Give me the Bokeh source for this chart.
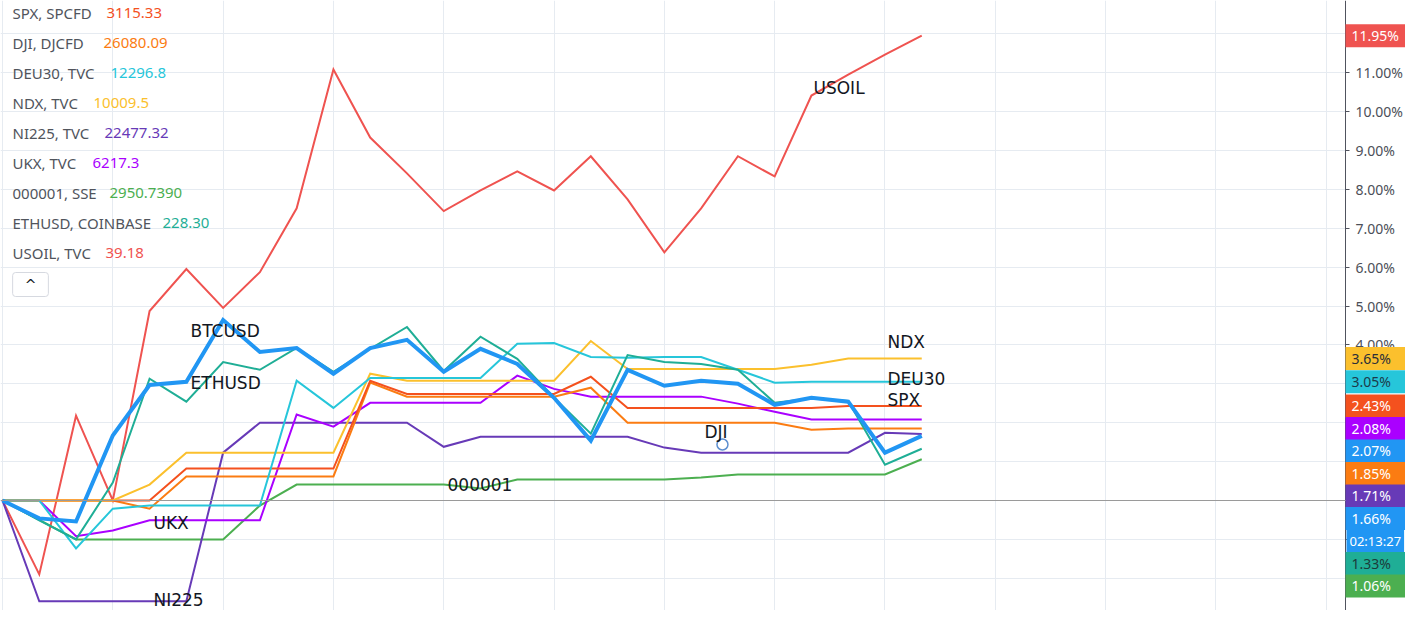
from bokeh.plotting import figure
from bokeh.models import (Range1d, FixedTicker, CustomJSTickFormatter, Span, Label,
                          BoxAnnotation)
from bokeh.embed import file_html
from bokeh.resources import INLINE

# ---------------- data (percent change, one point per bar) ----------------
bar_index = list(range(26))
btcusd = [0, -0.46, -0.54, 1.67, 2.97, 3.05, 4.64, 3.82, 3.92, 3.26, 3.92, 4.13, 3.31,
          3.90, 3.51, 2.64, 1.54, 3.36, 2.95, 3.08, 3.00, 2.46, 2.64, 2.54, 1.23, 1.66]
ethusd = [0, -0.51, -1.00, 0.46, 3.13, 2.54, 3.56, 3.36, 3.92, 3.31, 3.90, 4.46, 3.33,
          4.21, 3.64, 2.64, 1.72, 3.74, 3.56, 3.51, 3.36, 2.51, 2.62, 2.56, 0.92, 1.33]
deu30 = [0, 0, -1.23, -0.21, -0.13, -0.13, -0.13, -0.13, 3.08, 2.38, 3.15, 3.15, 3.15,
         3.15, 4.03, 4.05, 3.69, 3.67, 3.69, 3.69, 3.36, 3.03, 3.05, 3.05, 3.05, 3.05]
ndx = [0, 0, 0, 0, 0.41, 1.23, 1.23, 1.23, 1.23, 1.23, 3.26, 3.08, 3.08,
       3.08, 3.08, 3.08, 4.10, 3.38, 3.38, 3.38, 3.38, 3.38, 3.49, 3.65, 3.65, 3.65]
spx = [0, 0, 0, 0, 0, 0.82, 0.82, 0.82, 0.82, 0.82, 3.08, 2.74, 2.74,
       2.74, 2.74, 2.74, 3.18, 2.38, 2.38, 2.38, 2.38, 2.38, 2.38, 2.43, 2.43, 2.43]
dji = [0, 0, 0, 0, -0.21, 0.62, 0.62, 0.62, 0.62, 0.62, 3.03, 2.67, 2.67,
       2.67, 2.67, 2.67, 2.90, 2.00, 2.00, 2.00, 2.00, 2.00, 1.82, 1.85, 1.85, 1.85]
ni225 = [0, -2.59, -2.59, -2.59, -2.59, -2.59, 1.23, 2.00, 2.00, 2.00, 2.00, 2.00, 1.38,
         1.64, 1.64, 1.64, 1.64, 1.64, 1.36, 1.23, 1.23, 1.23, 1.23, 1.23, 1.74, 1.71]
ukx = [0, 0, -0.92, -0.77, -0.51, -0.51, -0.51, -0.51, 2.21, 1.90, 2.51, 2.51, 2.51,
       2.51, 3.21, 2.87, 2.67, 2.67, 2.67, 2.67, 2.49, 2.28, 2.08, 2.08, 2.08, 2.08]
sse000001 = [0, -0.50, -1.00, -1.00, -1.00, -1.00, -1.00, -0.13, 0.41, 0.41, 0.41, 0.41, 0.41,
             0.31, 0.54, 0.54, 0.54, 0.54, 0.54, 0.59, 0.67, 0.67, 0.67, 0.67, 0.67, 1.06]
usoil = [0, -1.90, 2.18, 0, 4.87, 5.95, 4.95, 5.87, 7.51, 11.08, 9.33, 8.41, 7.44,
         7.97, 8.46, 7.97, 8.85, 7.74, 6.38, 7.51, 8.85, 8.33, 10.41, 10.95, 11.46, 11.95]

legend_names = ["SPX, SPCFD", "DJI, DJCFD", "DEU30, TVC", "NDX, TVC", "NI225, TVC",
                "UKX, TVC", "000001, SSE", "ETHUSD, COINBASE", "USOIL, TVC"]
legend_values = ["3115.33", "26080.09", "12296.8", "10009.5", "22477.32",
                 "6217.3", "2950.7390", "228.30", "39.18"]

# price-scale badges (value, text)
badge_values = [3.65, 3.05, 2.43, 2.08, 2.07, 1.85, 1.71, 1.66, None, 1.33, 1.06]
badge_texts = ["3.65%", "3.05%", "2.43%", "2.08%", "2.07%", "1.85%", "1.71%", "1.66%",
               "02:13:27", "1.33%", "1.06%"]
top_badge_value = 11.95
top_badge_text = "11.95%"
y_ticks = list(range(-3, 13))

cursor_idx = [19.58]
cursor_val = [1.44]

# ---------------- styling ----------------
C = dict(spx="#f4511e", dji="#fb7c12", deu30="#26c6da", ndx="#fbc02d", ni225="#673ab7",
         ukx="#aa00ff", sse="#4caf50", eth="#1fae96", usoil="#ef5350", btc="#2196f3")
legend_colors = [C["spx"], C["dji"], C["deu30"], C["ndx"], C["ni225"], C["ukx"],
                 C["sse"], C["eth"], C["usoil"]]
badge_colors = [C["ndx"], C["deu30"], C["spx"], C["ukx"], C["btc"], C["dji"], C["ni225"],
                C["btc"], C["btc"], C["eth"], C["sse"]]
badge_text_colors = ["#2a2e39", "#1c3b4a", "white", "white", "white", "white", "white",
                     "white", "white", "#1c3b3a", "white"]

# reference-pixel helpers (canvas coordinates)
PX_PER_BAR = 36.77
PX_X0 = 2.0
PX_ZERO = 500.0
PX_PER_PCT = 38.9


def px_x(X):
    return (X - PX_X0) / PX_PER_BAR


def px_y(Y):
    return (PX_ZERO - Y) / PX_PER_PCT


W, H = 1405, 610
AXIS_X = 1345
p = figure(width=W, height=H, output_backend="svg", toolbar_location=None,
           x_range=Range1d(px_x(0), px_x(W)),
           y_range=Range1d(px_y(H), px_y(0)),
           y_axis_location="right", x_axis_location=None,
           min_border_left=0, min_border_top=0, min_border_bottom=0, min_border_right=0)
p.outline_line_color = None
p.background_fill_color = "white"
p.border_fill_color = "white"

# grid
p.ygrid.ticker = FixedTicker(ticks=y_ticks)
p.xgrid.ticker = FixedTicker(ticks=list(range(0, 37, 3)))
p.grid.grid_line_color = "#e6ebf1"
p.grid.grid_line_width = 1

# blank price-scale area (covers the grid right of the scale line)
p.add_layout(BoxAnnotation(left=px_x(AXIS_X), fill_color="white", fill_alpha=1.0,
                           line_color=None, level="underlay"))

# price scale, drawn at the right edge of the chart area
ax = p.yaxis[0]
ax.fixed_location = px_x(AXIS_X)
ax.ticker = FixedTicker(ticks=y_ticks)
ax.formatter = CustomJSTickFormatter(
    code="return (tick < 0 ? '\u2212' : '') + Math.abs(tick).toFixed(2) + '%';")
ax.axis_line_color = "#50535e"
ax.major_tick_line_color = "#50535e"
ax.major_tick_in = 0
ax.major_tick_out = 4
ax.minor_tick_line_color = None
ax.major_label_standoff = 6
ax.major_label_text_font = "Noto Sans"
ax.major_label_text_font_size = "14px"
ax.major_label_text_color = "#4c4f58"

p.add_layout(Span(location=0, dimension="width", line_color="#9a9a9a", line_width=1))

# series
series = [
    (usoil, C["usoil"], 2),
    (sse000001, C["sse"], 2),
    (ni225, C["ni225"], 2),
    (ukx, C["ukx"], 2),
    (dji, C["dji"], 2),
    (spx, C["spx"], 2),
    (ndx, C["ndx"], 2),
    (deu30, C["deu30"], 2),
    (ethusd, C["eth"], 2),
    (btcusd, C["btc"], 4),
]
for vals, col, lw in series:
    p.line(bar_index, vals, line_color=col, line_width=lw, line_join="miter")

p.scatter(cursor_idx, cursor_val, marker="circle", size=11, fill_color=None,
          line_color="#5d8fd0", line_width=1.5)

# on-chart symbol labels
chart_labels = [("BTCUSD", 190, 330), ("ETHUSD", 190, 382), ("UKX", 153, 522),
                ("NI225", 153, 599), ("000001", 447, 484), ("DJI", 704, 431),
                ("NDX", 887, 341), ("DEU30", 887, 378), ("SPX", 887, 399),
                ("USOIL", 813, 87)]
for txt, X, Y in chart_labels:
    p.add_layout(Label(x=px_x(X), y=px_y(Y), text=txt, text_font="DejaVu Sans",
                       text_font_size="17px", text_color="#131722",
                       text_baseline="middle", text_align="left"))

# legend (top-left)
legend_value_x = [106, 103, 110, 93, 104, 92, 109, 162, 105]
for i, (nm, vl, col) in enumerate(zip(legend_names, legend_values, legend_colors)):
    Y = 12 + 30 * i
    p.add_layout(Label(x=px_x(12), y=px_y(Y), text=nm, text_font="Noto Sans",
                       text_font_size="15px", text_color="#50545c",
                       text_baseline="middle", text_align="left"))
    p.add_layout(Label(x=px_x(legend_value_x[i]), y=px_y(Y), text=vl, text_font="Noto Sans",
                       text_font_size="15px", text_color=col,
                       text_baseline="middle", text_align="left"))

# collapse button
p.add_layout(Label(x=px_x(30), y=px_y(284), text="^", text_font="DejaVu Sans",
                   text_font_size="14px", text_color="#131722", text_baseline="middle",
                   text_align="center", background_fill_color="white",
                   border_line_color="#d6d9e0", border_line_width=1,
                   padding=dict(left=12, right=12, top=4, bottom=4), border_radius=3))

# price-scale badges, stacked to avoid overlap
BADGE_H = 22.5
prev = -1e9
for v, txt, bg, fg in zip(badge_values, badge_texts, badge_colors, badge_text_colors):
    if v is None:
        Y = prev + BADGE_H
    else:
        Y = max(PX_ZERO - v * PX_PER_PCT, prev + BADGE_H)
    prev = Y
    is_timer = txt.startswith("02")
    p.add_layout(Label(x=px_x(AXIS_X + (1 if is_timer else 0)), y=px_y(Y), text=txt,
                       text_font="Noto Sans",
                       text_font_size="13px" if is_timer else "14px", text_color=fg,
                       text_baseline="middle", text_align="left", background_fill_color=bg,
                       padding=dict(left=3 if is_timer else 6, right=3 if is_timer else 16,
                                    top=2, bottom=2)))

p.add_layout(Label(x=px_x(AXIS_X), y=top_badge_value, text=top_badge_text,
                   text_font="Noto Sans", text_font_size="14px", text_color="white",
                   text_baseline="middle", text_align="left", background_fill_color=C["usoil"],
                   padding=dict(left=6, right=10, top=2, bottom=2)))

open("out.html", "w").write(file_html(p, INLINE))
